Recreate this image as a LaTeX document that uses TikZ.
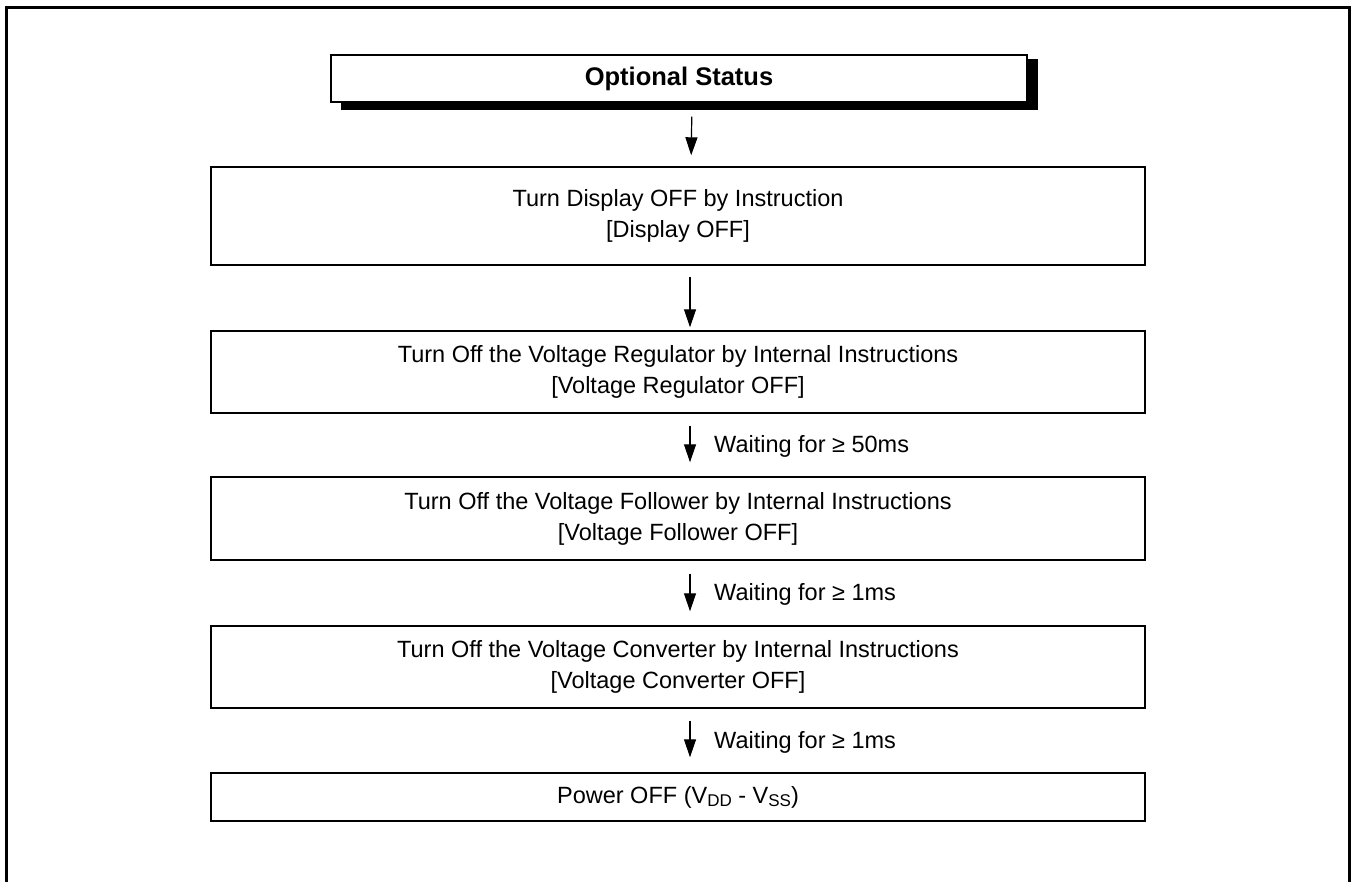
\documentclass[tikz,border=0pt]{standalone}
\usepackage{fontspec}
\setmainfont{Liberation Sans}
\usetikzlibrary{arrows.meta}
\newcommand{\subsc}[1]{\raisebox{-0.25ex}{\fontsize{17}{17}\selectfont #1}}
\begin{document}
\begin{tikzpicture}[x=1pt,y=-1pt,
  box/.style={draw,line width=1.4pt,minimum width=934pt,align=center,font=\fontsize{23.5}{31}\selectfont,inner sep=0pt},
  arr/.style={line width=1.2pt,-{Triangle[length=18pt,width=12pt]}},
  lbl/.style={anchor=west,font=\fontsize{23.5}{28}\selectfont,inner sep=0pt}]
\useasboundingbox (0,0) rectangle (1357,882);
% outer frame
\draw[line width=3pt] (6,882) -- (6,8) -- (1349,8) -- (1349,882);
% optional status
\fill (341,59) rectangle (1038,110);
\node[draw,fill=white,line width=1.2pt,minimum width=696pt,minimum height=47pt,inner sep=0pt,font=\fontsize{25.5}{28}\selectfont\bfseries] (opt) at (679,78.5) {Optional Status};
\node[box,minimum height=98pt] (b1) at (678,216) {Turn Display OFF by Instruction\\{}[Display OFF]};
\node[box,minimum height=82pt] (b2) at (678,372) {Turn Off the Voltage Regulator by Internal Instructions\\{}[Voltage Regulator OFF]};
\node[box,minimum height=83pt] (b3) at (678,518.5) {Turn Off the Voltage Follower by Internal Instructions\\{}[Voltage Follower OFF]};
\node[box,minimum height=82pt] (b4) at (678,667) {Turn Off the Voltage Converter by Internal Instructions\\{}[Voltage Converter OFF]};
\node[box,minimum height=48pt] (b5) at (678,797) {Power OFF (V\subsc{DD} - V\subsc{SS})};
% arrows
\draw[arr,shorten <=14pt,shorten >=11pt] ([xshift=13pt]opt.south) -- ([xshift=13pt]b1.north);
\draw[arr,shorten <=11pt,shorten >=3pt] ([xshift=12pt]b1.south) -- ([xshift=12pt]b2.north);
\draw[arr,shorten <=12pt,shorten >=14pt] ([xshift=12pt]b2.south) -- ([xshift=12pt]b3.north);
\draw[arr,shorten <=13pt,shorten >=14pt] ([xshift=12pt]b3.south) -- ([xshift=12pt]b4.north);
\draw[arr,shorten <=12pt,shorten >=15pt] ([xshift=12pt]b4.south) -- ([xshift=12pt]b5.north);
% labels
\node[lbl] (l1) at (714,446) {Waiting for ≥ 50ms};
\node[lbl] (l2) at (714,594) {Waiting for ≥ 1ms};
\node[lbl] (l3) at (714,742) {Waiting for ≥ 1ms};
\end{tikzpicture}
\end{document}
